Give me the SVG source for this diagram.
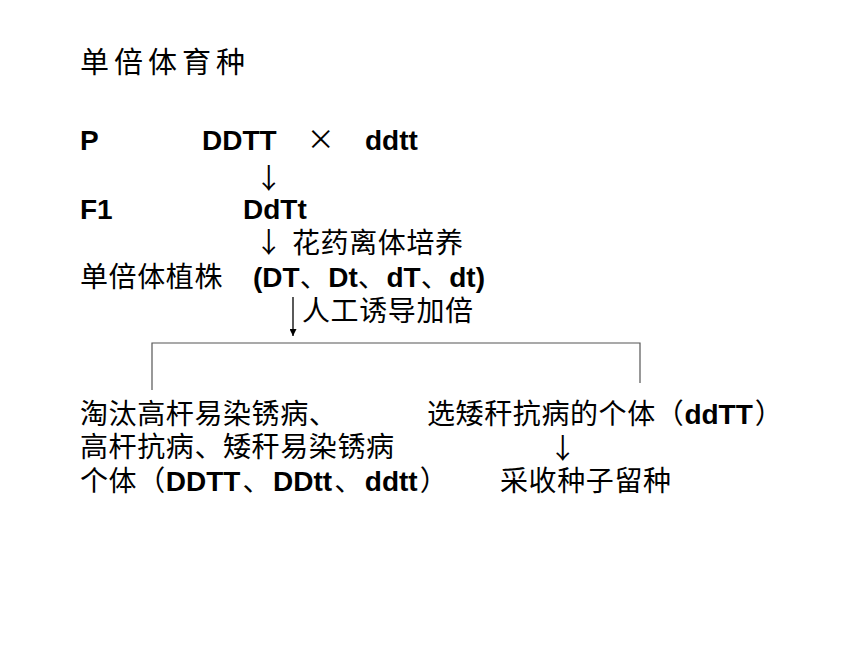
<svg xmlns="http://www.w3.org/2000/svg" width="860" height="645" viewBox="0 0 860 645">
<style>
.cn{font-family:"Noto Sans CJK SC","Liberation Sans",sans-serif;font-size:28px;letter-spacing:0.6px;fill:#000}
.b{font-family:"Liberation Sans","Noto Sans CJK SC",sans-serif;font-size:28px;font-weight:bold;fill:#000}
.title{font-family:"Noto Sans CJK SC",sans-serif;font-size:29px;letter-spacing:5px;fill:#000}
.br{fill:none;stroke:#555;stroke-width:1.2}
.ar{fill:none;stroke:#000;stroke-width:1.3}
</style>
<defs>
<marker id="ah" viewBox="0 0 10 10" refX="10" refY="5" markerWidth="7" markerHeight="7" orient="auto" markerUnits="userSpaceOnUse">
<path d="M0,0 L10,5 L0,10 z" fill="#000"/>
</marker>
</defs>
<rect width="860" height="645" fill="#fff"/>
<g id="title"><text class="title" x="80" y="73">单倍体育种</text></g>
<g id="node-p">
<text class="b" x="80" y="150">P</text>
<text class="b" x="202" y="150">DDTT</text>
<text class="cn" x="321" y="150" text-anchor="middle">×</text>
<text class="b" x="365" y="150">ddtt</text>
</g>
<g id="node-f1">
<text class="b" x="80" y="219">F1</text>
<text class="b" x="243" y="219">DdTt</text>
</g>
<g id="node-haploid">
<text class="cn" x="80" y="287">单倍体植株</text>
<text x="253" y="287"><tspan class="b">(DT</tspan><tspan class="cn">、</tspan><tspan class="b">Dt</tspan><tspan class="cn">、</tspan><tspan class="b">dT</tspan><tspan class="cn">、</tspan><tspan class="b">dt)</tspan></text>
</g>
<g id="node-discard">
<text class="cn" x="80" y="424">淘汰高杆易染锈病、</text>
<text class="cn" x="80" y="457">高杆抗病、矮秆易染锈病</text>
<text x="80" y="491"><tspan class="cn">个体（</tspan><tspan class="b">DDTT</tspan><tspan class="cn" dx="2">、</tspan><tspan class="b" dx="2">DDtt</tspan><tspan class="cn" dx="2">、</tspan><tspan class="b" dx="2">ddtt</tspan><tspan class="cn" dx="2">）</tspan></text>
</g>
<g id="node-select">
<text x="427" y="424"><tspan class="cn">选矮秆抗病的个体（</tspan><tspan class="b">ddTT</tspan><tspan class="cn" dx="2">）</tspan></text>
</g>
<g id="node-seed">
<text class="cn" x="500" y="491">采收种子留种</text>
</g>
<g id="connectors">
<text class="cn" x="269" y="189" text-anchor="middle">↓</text>
<text class="cn" x="269" y="253" text-anchor="middle">↓</text>
<text class="cn" x="292" y="253">花药离体培养</text>
<line class="ar" x1="293" y1="297" x2="293" y2="336" marker-end="url(#ah)"/>
<text class="cn" x="302" y="321">人工诱导加倍</text>
<polyline class="br" points="152,390 152,343 640,343 640,383"/>
<text class="cn" x="563" y="459" text-anchor="middle">↓</text>
</g>
</svg>
